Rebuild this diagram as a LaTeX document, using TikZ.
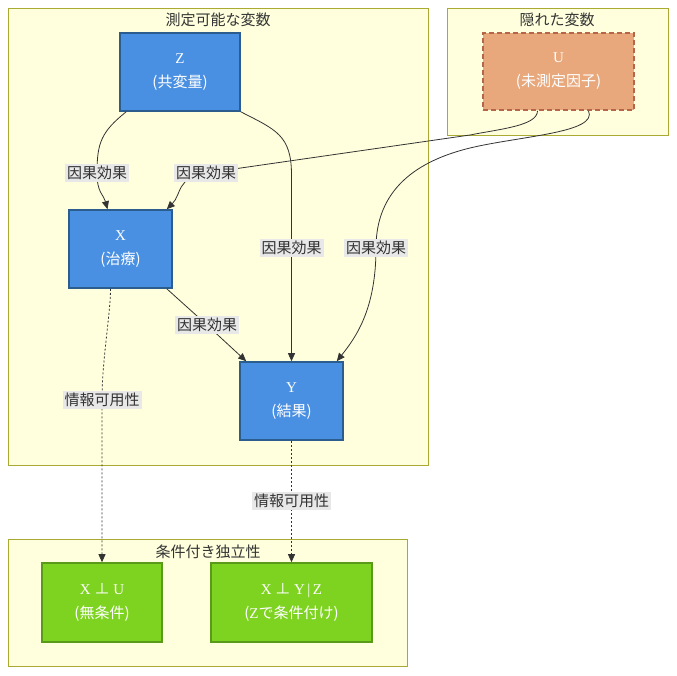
\documentclass[tikz,border=0pt]{standalone}
\usepackage{fontspec}
\setmainfont{Liberation Serif}
\newfontfamily\jp{Noto Sans CJK JP}
\usepackage{tikz}
\usetikzlibrary{
  arrows.meta,
  positioning
}
\definecolor{clfill}{HTML}{FFFFDE}
\definecolor{clline}{HTML}{AAAA33}
\definecolor{obsfill}{HTML}{4A90E2}
\definecolor{obsline}{HTML}{2C5D8F}
\definecolor{hidfill}{HTML}{E8A87C}
\definecolor{hidline}{HTML}{B5654A}
\definecolor{indfill}{HTML}{7ED321}
\definecolor{indline}{HTML}{5A9A1A}
\definecolor{edgegray}{HTML}{333333}
\definecolor{lblgray}{HTML}{E8E8E8}

\begin{document}
\begin{tikzpicture}[x=1pt, y=-1pt,
  group/.style={rectangle, draw=clline, fill=clfill, line width=1pt},
  grouptitle/.style={font=\jp\fontsize{15}{18}\selectfont, text=edgegray},
  varbox/.style={rectangle, text=white, align=center, minimum height=78pt, line width=1.6pt, font=\fontsize{15}{24}\selectfont},
  obs/.style={varbox, draw=obsline, fill=obsfill},
  hidden/.style={varbox, draw=hidline, fill=hidfill, dash pattern=on 5pt off 3pt},
  indep/.style={varbox, draw=indline, fill=indfill, minimum height=79pt},
  arr/.style={-{Triangle[length=8pt,width=7pt]}, draw=edgegray, line width=0.8pt},
  info/.style={arr, dash pattern=on 2pt off 2pt},
  lbl/.style={fill=lblgray, text=edgegray, font=\jp\fontsize{15}{18}\selectfont, inner sep=2pt}
]
  \useasboundingbox (0,0) rectangle (677,675);

  % groups
  \node[group, minimum width=420pt, minimum height=457pt] (measured) at (218,236.5) {};
  \node[grouptitle] (measuredtitle) at (218,20) {測定可能な変数};
  \node[group, minimum width=221pt, minimum height=127pt] (latent) at (557.5,71.5) {};
  \node[grouptitle] (latenttitle) at (557,20) {隠れた変数};
  \node[group, minimum width=399pt, minimum height=127pt] (condind) at (207.5,602.5) {};
  \node[grouptitle] (condindtitle) at (208,552) {条件付き独立性};

  % variables
  \node[obs, minimum width=120pt] (Z) at (180,72) {Z\\{\jp(共変量)}};
  \node[hidden, minimum width=151pt, minimum height=77pt] (U) at (558.5,71.5) {U\\{\jp(未測定因子)}};
  \node[obs, minimum width=103pt] (X) at (120.5,249) {X\\{\jp(治療)}};
  \node[obs, minimum width=103pt] (Y) at (291.5,401) {Y\\{\jp(結果)}};
  \node[indep, minimum width=120pt] (XU) at (102,602.5) {X {\jp ⊥} U\\{\jp(無条件)}};
  \node[indep, minimum width=161pt] (XYZ) at (291.5,602.5) {X {\jp ⊥} Y\,|\,Z\\{\jp(}Z{\jp で条件付け)}};

  % causal effects
  \draw[arr] ([xshift=7pt]Z.south west) .. controls +(-25,20) and +(0,-30) .. (97,173) node[lbl]{因果効果}
    .. controls +(0,20) and +(-4,-15) .. ([xshift=-13pt]X.north);
  \draw[arr] ([xshift=-21pt]U.south) .. controls +(0,15) and +(30,-6) .. (470,135) -- (206,173) node[lbl]{因果効果}
    .. controls +(-30,5) and +(15,-15) .. ([xshift=-6pt]X.north east);
  \draw[arr] (Z.south east) .. controls +(35,18) and +(0,-40) .. (291.5,175) -- (291.5,248) node[lbl]{因果効果} -- (Y.north);
  \draw[arr] ([xshift=30pt]U.south) .. controls +(10,22) and +(50,-12) .. (470,148)
    .. controls +(-70,17) and +(0,-45) .. (376,248) node[lbl]{因果効果}
    .. controls +(0,60) and +(20,-25) .. ([xshift=-7pt]Y.north east);
  \draw[arr] ([xshift=-6pt]X.south east) -- (207,325) node[lbl]{因果効果} -- ([xshift=7pt]Y.north west);

  % information availability
  \draw[info] ([xshift=-10pt]X.south) .. controls +(0,25) and +(0,-40) .. (102,400) node[lbl]{情報可用性} -- (XU.north);
  \draw[info] (Y.south) -- (291.5,501) node[lbl]{情報可用性} -- (XYZ.north);
\end{tikzpicture}
\end{document}
